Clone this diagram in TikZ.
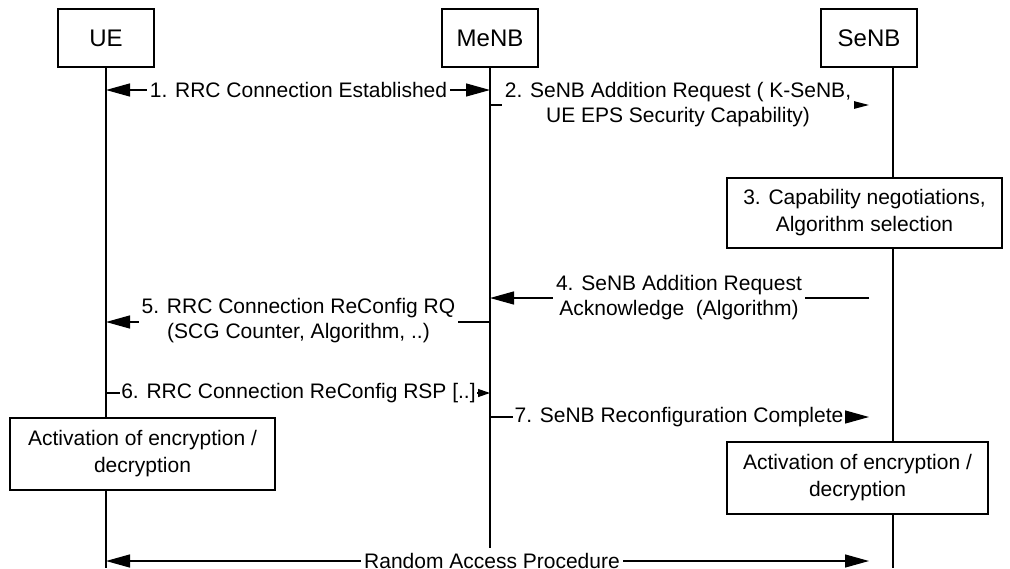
\documentclass[tikz,border=0pt]{standalone}
\usepackage{fontspec}
\setmainfont{Liberation Sans}
\usetikzlibrary{arrows.meta}
\begin{document}
\begin{tikzpicture}[x=1pt,y=-1pt,
  every node/.style={font=\fontsize{21}{25}\selectfont, inner sep=0pt},
  head/.style={draw, line width=1.3pt, minimum width=96pt, minimum height=58pt, font=\fontsize{24}{28}\selectfont},
  procbox/.style={draw, line width=1.3pt, align=center, font=\fontsize{21}{27}\selectfont},
  life/.style={line width=1.3pt},
  msg/.style={line width=1.3pt},
  bigtip/.style={-{Triangle[length=24pt,width=13pt]}},
  bothtip/.style={{Triangle[length=24pt,width=13pt]}-{Triangle[length=24pt,width=13pt]}},
  midtip/.style={-{Triangle[length=18pt,width=9pt]}},
  smalltip/.style={-{Triangle[length=12pt,width=8pt]}},
  lbl/.style={fill=white, align=center, inner xsep=3pt, inner ysep=1pt}
]
\clip (0,0) rectangle (1010,568);
\fill[white] (0,0) rectangle (1010,568);

% headers
\node[head] (ue)   at (106,38) {UE};
\node[head] (menb) at (490,38) {MeNB};
\node[head] (senb) at (869,38) {SeNB};

% process boxes
\node[procbox, minimum width=275pt, minimum height=70pt] (cap) at (864.5,213) {3. Capability negotiations,\\Algorithm selection};
\node[procbox, minimum width=265pt, minimum height=72pt] (ueact) at (142.5,454) {Activation of encryption /\\decryption};
\node[procbox, minimum width=261pt, minimum height=72pt] (seact) at (857.5,478) {Activation of encryption /\\decryption};

% level coordinates
\coordinate (sx) at (893,0);
\coordinate (bot) at (0,568);
\coordinate (mend) at (0,548);
\coordinate (y1) at (0,90);
\coordinate (y2) at (0,105);
\coordinate (y4) at (0,298);
\coordinate (y5) at (0,322);
\coordinate (y6) at (0,393);
\coordinate (y7) at (0,417);
\coordinate (y8) at (0,561);

% lifelines
\draw[life] (ue.south) -- (ue.south |- ueact.north);
\draw[life] (ue.south |- ueact.south) -- (ue.south |- bot);
\draw[life] (menb.south) -- (menb.south |- mend);
\draw[life] (sx |- senb.south) -- (sx |- cap.north);
\draw[life] (sx |- cap.south) -- (sx |- seact.north);
\draw[life] (sx |- seact.south) -- (sx |- bot);

% messages
\draw[msg, bothtip] (ue |- y1) -- (menb |- y1);
\node[lbl] (m1) at (298.5,90) {1. RRC Connection Established};

\draw[msg, midtip] (menb |- y2) -- (senb |- y2);
\node[lbl] (m2) at (678,104.5) {2. SeNB Addition Request ( K-SeNB,\\UE EPS Security Capability)};

\draw[msg, bigtip] (senb |- y4) -- (menb |- y4);
\node[lbl] (m4) at (679,297.5) {4. SeNB Addition Request\\Acknowledge~~(Algorithm)};

\draw[msg, bigtip] (menb |- y5) -- (ue |- y5);
\node[lbl] (m5) at (298.5,320.5) {5. RRC Connection ReConfig RQ\\(SCG Counter, Algorithm, ..)};

\draw[msg, smalltip] (ue |- y6) -- (menb |- y6);
\node[lbl, inner xsep=1.5pt] (m6) at (298.5,393) {6. RRC Connection ReConfig RSP [..]};

\draw[msg, bigtip] (menb |- y7) -- (senb |- y7);
\node[lbl, inner xsep=1.5pt] (m7) at (679,417) {7. SeNB Reconfiguration Complete};

\draw[msg, bothtip] (ue |- y8) -- (senb |- y8);
\node[lbl] (m8) at (492,561) {Random Access Procedure};
\end{tikzpicture}
\end{document}
